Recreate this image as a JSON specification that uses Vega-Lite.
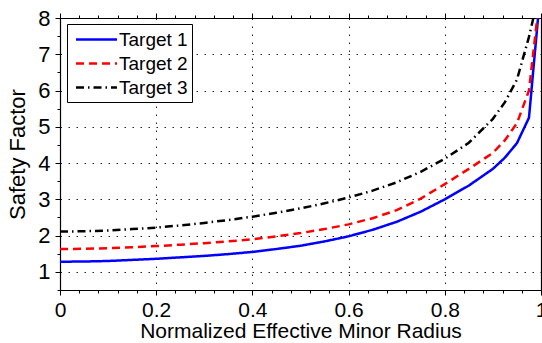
{
  "$schema": "https://vega.github.io/schema/vega-lite/v6.json",
  "width": 481,
  "height": 272,
  "autosize": "none",
  "padding": {"left": 60, "top": 18, "right": 1, "bottom": 53},
  "background": "white",
  "config": {
    "view": {"stroke": null},
    "font": "Liberation Sans",
    "axis": {
      "domainColor": "black",
      "domainWidth": 1.2,
      "tickColor": "black",
      "tickWidth": 1,
      "labelColor": "black",
      "titleColor": "black",
      "labelFont": "Liberation Sans",
      "titleFont": "Liberation Sans",
      "labelFontSize": 21,
      "titleFontSize": 21,
      "titleFontWeight": "normal",
      "gridColor": "#222222",
      "gridDash": [1.5, 6.5],
      "gridWidth": 1
    }
  },
  "data": {
    "values": [
      {"r": 0, "sf": 1.28, "target": "Target 1"},
      {"r": 0.05, "sf": 1.285, "target": "Target 1"},
      {"r": 0.1, "sf": 1.3, "target": "Target 1"},
      {"r": 0.15, "sf": 1.33, "target": "Target 1"},
      {"r": 0.2, "sf": 1.36, "target": "Target 1"},
      {"r": 0.25, "sf": 1.4, "target": "Target 1"},
      {"r": 0.3, "sf": 1.44, "target": "Target 1"},
      {"r": 0.35, "sf": 1.49, "target": "Target 1"},
      {"r": 0.4, "sf": 1.55, "target": "Target 1"},
      {"r": 0.45, "sf": 1.63, "target": "Target 1"},
      {"r": 0.5, "sf": 1.72, "target": "Target 1"},
      {"r": 0.55, "sf": 1.84, "target": "Target 1"},
      {"r": 0.6, "sf": 1.98, "target": "Target 1"},
      {"r": 0.65, "sf": 2.16, "target": "Target 1"},
      {"r": 0.7, "sf": 2.38, "target": "Target 1"},
      {"r": 0.75, "sf": 2.66, "target": "Target 1"},
      {"r": 0.8, "sf": 3.0, "target": "Target 1"},
      {"r": 0.85, "sf": 3.38, "target": "Target 1"},
      {"r": 0.9, "sf": 3.84, "target": "Target 1"},
      {"r": 0.925, "sf": 4.15, "target": "Target 1"},
      {"r": 0.95, "sf": 4.55, "target": "Target 1"},
      {"r": 0.975, "sf": 5.25, "target": "Target 1"},
      {"r": 1.0, "sf": 8.9, "target": "Target 1"},
      {"r": 0, "sf": 1.63, "target": "Target 2"},
      {"r": 0.05, "sf": 1.635, "target": "Target 2"},
      {"r": 0.1, "sf": 1.65, "target": "Target 2"},
      {"r": 0.15, "sf": 1.68, "target": "Target 2"},
      {"r": 0.2, "sf": 1.71, "target": "Target 2"},
      {"r": 0.25, "sf": 1.75, "target": "Target 2"},
      {"r": 0.3, "sf": 1.79, "target": "Target 2"},
      {"r": 0.35, "sf": 1.84, "target": "Target 2"},
      {"r": 0.4, "sf": 1.9, "target": "Target 2"},
      {"r": 0.45, "sf": 1.98, "target": "Target 2"},
      {"r": 0.5, "sf": 2.07, "target": "Target 2"},
      {"r": 0.55, "sf": 2.18, "target": "Target 2"},
      {"r": 0.6, "sf": 2.31, "target": "Target 2"},
      {"r": 0.65, "sf": 2.48, "target": "Target 2"},
      {"r": 0.7, "sf": 2.7, "target": "Target 2"},
      {"r": 0.75, "sf": 3.02, "target": "Target 2"},
      {"r": 0.8, "sf": 3.42, "target": "Target 2"},
      {"r": 0.85, "sf": 3.84, "target": "Target 2"},
      {"r": 0.9, "sf": 4.28, "target": "Target 2"},
      {"r": 0.925, "sf": 4.63, "target": "Target 2"},
      {"r": 0.95, "sf": 5.1, "target": "Target 2"},
      {"r": 0.975, "sf": 6.0, "target": "Target 2"},
      {"r": 1.0, "sf": 8.9, "target": "Target 2"},
      {"r": 0, "sf": 2.11, "target": "Target 3"},
      {"r": 0.05, "sf": 2.12, "target": "Target 3"},
      {"r": 0.1, "sf": 2.14, "target": "Target 3"},
      {"r": 0.15, "sf": 2.18, "target": "Target 3"},
      {"r": 0.2, "sf": 2.22, "target": "Target 3"},
      {"r": 0.25, "sf": 2.28, "target": "Target 3"},
      {"r": 0.3, "sf": 2.35, "target": "Target 3"},
      {"r": 0.35, "sf": 2.43, "target": "Target 3"},
      {"r": 0.4, "sf": 2.52, "target": "Target 3"},
      {"r": 0.45, "sf": 2.63, "target": "Target 3"},
      {"r": 0.5, "sf": 2.75, "target": "Target 3"},
      {"r": 0.55, "sf": 2.89, "target": "Target 3"},
      {"r": 0.6, "sf": 3.05, "target": "Target 3"},
      {"r": 0.65, "sf": 3.24, "target": "Target 3"},
      {"r": 0.7, "sf": 3.47, "target": "Target 3"},
      {"r": 0.75, "sf": 3.76, "target": "Target 3"},
      {"r": 0.8, "sf": 4.12, "target": "Target 3"},
      {"r": 0.85, "sf": 4.56, "target": "Target 3"},
      {"r": 0.9, "sf": 5.22, "target": "Target 3"},
      {"r": 0.925, "sf": 5.68, "target": "Target 3"},
      {"r": 0.95, "sf": 6.3, "target": "Target 3"},
      {"r": 0.975, "sf": 7.48, "target": "Target 3"},
      {"r": 1.0, "sf": 8.9, "target": "Target 3"}
    ]
  },
  "layer": [
    {
      "mark": {"type": "line", "clip": true, "strokeWidth": 2.5},
      "encoding": {
        "x": {
          "field": "r",
          "type": "quantitative",
          "scale": {"domain": [0, 1], "nice": false},
          "axis": {
            "orient": "bottom",
            "title": "Normalized Effective Minor Radius",
            "values": [0, 0.04, 0.08, 0.12, 0.16, 0.2, 0.24, 0.28, 0.32, 0.36, 0.4, 0.44, 0.48, 0.52, 0.56, 0.6, 0.64, 0.68, 0.72, 0.76, 0.8, 0.84, 0.88, 0.92, 0.96, 1],
            "labelExpr": "abs(datum.value * 5 - round(datum.value * 5)) < 0.001 ? format(datum.value, '.1~f') : ''",
            "labelFlush": false,
            "labelOverlap": false,
            "labelPadding": 4,
            "titlePadding": 0,
            "tickSize": {"condition": {"test": "abs(datum.value * 5 - round(datum.value * 5)) < 0.001", "value": 5}, "value": 3},
            "grid": true,
            "gridOpacity": {"condition": {"test": "abs(datum.value * 5 - round(datum.value * 5)) < 0.001", "value": 1}, "value": 0}
          }
        },
        "y": {
          "field": "sf",
          "type": "quantitative",
          "scale": {"domain": [0.5, 8], "nice": false, "zero": false},
          "axis": {
            "orient": "left",
            "title": "Safety Factor",
            "titleFontSize": 22,
            "values": [0.5, 1, 1.5, 2, 2.5, 3, 3.5, 4, 4.5, 5, 5.5, 6, 6.5, 7, 7.5, 8],
            "labelExpr": "datum.value % 1 == 0 ? format(datum.value, 'd') : ''",
            "labelFontSize": 22,
            "labelOverlap": false,
            "labelFlush": false,
            "labelPadding": 5,
            "titlePadding": 8,
            "tickSize": {"condition": {"test": "datum.value % 1 == 0", "value": 5}, "value": 3},
            "grid": true,
            "gridOpacity": {"condition": {"test": "datum.value % 1 == 0", "value": 1}, "value": 0}
          }
        },
        "color": {
          "field": "target",
          "type": "nominal",
          "scale": {"domain": ["Target 1", "Target 2", "Target 3"], "range": ["#0000ff", "#ff0000", "#000000"]},
          "legend": {
            "title": null,
            "orient": "none",
            "legendX": 7,
            "legendY": 6,
            "strokeColor": "black",
            "fillColor": "white",
            "padding": 4,
            "rowPadding": 2,
            "symbolType": "M-2,0H2",
            "symbolSize": 420,
            "symbolStrokeWidth": 2.5,
            "symbolOffset": 14,
            "labelOffset": 11,
            "labelFont": "Liberation Sans",
            "labelFontSize": 19,
            "labelColor": "black"
          }
        },
        "strokeDash": {
          "field": "target",
          "type": "nominal",
          "scale": {"domain": ["Target 1", "Target 2", "Target 3"], "range": [[1, 0], [8, 5], [8, 4, 1.5, 4]]},
          "legend": {
            "title": null,
            "orient": "none",
            "legendX": 7,
            "legendY": 6,
            "strokeColor": "black",
            "fillColor": "white",
            "padding": 4,
            "rowPadding": 2,
            "symbolType": "M-2,0H2",
            "symbolSize": 420,
            "symbolStrokeWidth": 2.5,
            "symbolOffset": 14,
            "labelOffset": 11,
            "labelFont": "Liberation Sans",
            "labelFontSize": 19,
            "labelColor": "black"
          }
        }
      }
    },
    {
      "mark": {"type": "point", "opacity": 0},
      "encoding": {
        "x": {
          "field": "r",
          "type": "quantitative",
          "axis": {
            "orient": "top",
            "title": null,
            "labels": false,
            "grid": false,
            "values": [0, 0.04, 0.08, 0.12, 0.16, 0.2, 0.24, 0.28, 0.32, 0.36, 0.4, 0.44, 0.48, 0.52, 0.56, 0.6, 0.64, 0.68, 0.72, 0.76, 0.8, 0.84, 0.88, 0.92, 0.96, 1],
            "tickSize": {"condition": {"test": "abs(datum.value * 5 - round(datum.value * 5)) < 0.001", "value": 5}, "value": 3}
          }
        },
        "y": {
          "field": "sf",
          "type": "quantitative",
          "axis": {
            "orient": "right",
            "title": null,
            "labels": false,
            "grid": false,
            "values": [0.5, 1, 1.5, 2, 2.5, 3, 3.5, 4, 4.5, 5, 5.5, 6, 6.5, 7, 7.5, 8],
            "tickSize": {"condition": {"test": "datum.value % 1 == 0", "value": 5}, "value": 3}
          }
        }
      }
    }
  ],
  "resolve": {"axis": {"x": "independent", "y": "independent"}}
}
